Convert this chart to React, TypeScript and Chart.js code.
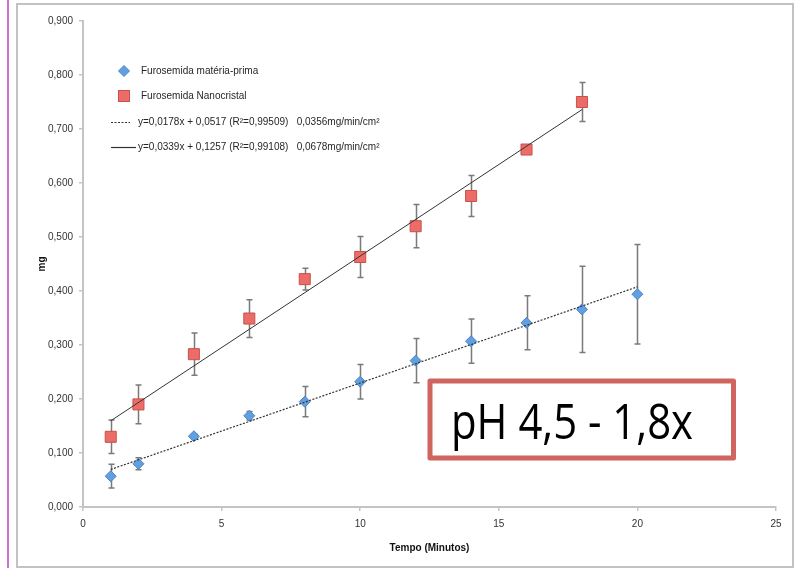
import React, { useEffect, useRef } from 'react';
import { Chart, registerables } from 'chart.js';

Chart.register(...registerables);

// ---- data ----
const timesMP = [1, 2, 4, 6, 8, 10, 12, 14, 16, 18, 20];
const valuesMP = [0.057, 0.080, 0.131, 0.169, 0.195, 0.232, 0.271, 0.307, 0.341, 0.366, 0.394];
const errMP = [0.022, 0.011, 0.004, 0.008, 0.028, 0.032, 0.041, 0.041, 0.050, 0.080, 0.092];

const timesNano = [1, 2, 4, 6, 8, 10, 12, 14, 16, 18];
const valuesNano = [0.130, 0.190, 0.283, 0.349, 0.422, 0.463, 0.520, 0.576, 0.662, 0.750];
const errNano = [0.031, 0.036, 0.039, 0.035, 0.020, 0.038, 0.040, 0.038, 0.003, 0.036];

const trendMPX = [1, 20];
const trendMPY = [0.0695, 0.4077];
const trendNanoX = [1, 18];
const trendNanoY = [0.1596, 0.7359];

const labelMP = 'Furosemida matéria-prima';
const labelNano = 'Furosemida Nanocristal';
const labelTrendMP = 'y=0,0178x + 0,0517 (R²=0,99509)   0,0356mg/min/cm²';
const labelTrendNano = 'y=0,0339x + 0,1257 (R²=0,99108)   0,0678mg/min/cm²';

const xTitle = 'Tempo (Minutos)';
const yTitle = 'mg';
const boxText = 'pH 4,5 - 1,8x';

const xMin = 0, xMax = 25, xStep = 5;
const yMin = 0, yMax = 0.9, yStep = 0.1;

const FONT = "'Liberation Sans', Arial, sans-serif";
const BOXFONT = "'Open Sans', 'Liberation Sans', sans-serif";

const toPoints = (xs: number[], ys: number[]) => xs.map((x, i) => ({ x, y: ys[i] }));

const errorBarsPlugin = {
  id: 'errorBars',
  beforeDatasetsDraw(chart: any) {
    const { ctx, scales } = chart;
    const xs = scales.x, ys = scales.y;
    ctx.save();
    ctx.strokeStyle = '#7a7a7a';
    ctx.lineWidth = 1.5;
    chart.data.datasets.forEach((ds: any) => {
      if (!ds.errors) return;
      ds.data.forEach((p: any, j: number) => {
        const e = ds.errors[j];
        const px = Math.round(xs.getPixelForValue(p.x)) + 0.5;
        const top = ys.getPixelForValue(p.y + e);
        const bot = ys.getPixelForValue(p.y - e);
        ctx.beginPath();
        ctx.moveTo(px, top);
        ctx.lineTo(px, bot);
        ctx.moveTo(px - 3, top);
        ctx.lineTo(px + 3, top);
        ctx.moveTo(px - 3, bot);
        ctx.lineTo(px + 3, bot);
        ctx.stroke();
      });
    });
    ctx.restore();
  },
};

const legendPlugin = {
  id: 'customLegend',
  afterDraw(chart: any) {
    const { ctx } = chart;
    const dss = chart.data.datasets;
    const mx = 124, tx = 141;
    const rows = [71, 96, 122, 147];
    ctx.save();
    ctx.font = `10px ${FONT}`;
    ctx.textBaseline = 'middle';
    ctx.fillStyle = '#262626';
    dss.forEach((ds: any, i: number) => {
      const yy = rows[i];
      ctx.save();
      if (ds.pointStyle === 'rectRot') {
        ctx.fillStyle = ds.backgroundColor;
        ctx.strokeStyle = ds.borderColor;
        ctx.lineWidth = 1;
        ctx.beginPath();
        ctx.moveTo(mx, yy - 5.5);
        ctx.lineTo(mx + 5.5, yy);
        ctx.lineTo(mx, yy + 5.5);
        ctx.lineTo(mx - 5.5, yy);
        ctx.closePath();
        ctx.fill();
        ctx.stroke();
      } else if (ds.pointStyle === 'rect') {
        ctx.fillStyle = ds.backgroundColor;
        ctx.strokeStyle = ds.borderColor;
        ctx.lineWidth = 1;
        ctx.fillRect(mx - 5.5, yy - 5.5, 11, 11);
        ctx.strokeRect(mx - 5.5, yy - 5.5, 11, 11);
      } else {
        ctx.strokeStyle = ds.borderColor;
        ctx.lineWidth = 1.2;
        ctx.setLineDash(ds.borderDash || []);
        ctx.beginPath();
        ctx.moveTo(111, yy + 0.5);
        ctx.lineTo(ds.borderDash ? 130 : 136, yy + 0.5);
        ctx.stroke();
      }
      ctx.restore();
      ctx.fillText(ds.label, ds.pointStyle ? tx : 138, yy);
    });
    ctx.restore();
  },
};

const boxPlugin = {
  id: 'phBox',
  afterDraw(chart: any) {
    const { ctx } = chart;
    ctx.save();
    ctx.fillStyle = '#ffffff';
    ctx.strokeStyle = '#d0645f';
    ctx.lineWidth = 5;
    ctx.lineJoin = 'round';
    ctx.beginPath();
    ctx.rect(430, 381, 303.5, 77);
    ctx.fill();
    ctx.stroke();
    ctx.fillStyle = '#000000';
    ctx.textBaseline = 'alphabetic';
    ctx.font = `50px ${BOXFONT}`;
    const w = ctx.measureText(boxText).width;
    const target = 242;
    ctx.translate(451, 439);
    ctx.scale(target / w, 1);
    ctx.fillText(boxText, 0, 0);
    ctx.restore();
  },
};

export default function App() {
  const ref = useRef<HTMLCanvasElement | null>(null);

  useEffect(() => {
    if (!ref.current) return;
    Chart.defaults.font.family = FONT;
    const axisColor = '#c4c4c4';
    const chart = new Chart(ref.current, {
      type: 'scatter',
      data: {
        datasets: [
          {
            label: labelMP,
            data: toPoints(timesMP, valuesMP),
            errors: errMP,
            pointStyle: 'rectRot',
            pointRadius: 5.5,
            backgroundColor: '#629fe0',
            borderColor: '#4a84c4',
            borderWidth: 1,
            showLine: false,
            order: 2,
          } as any,
          {
            label: labelNano,
            data: toPoints(timesNano, valuesNano),
            errors: errNano,
            pointStyle: 'rect',
            pointRadius: 7.8,
            backgroundColor: '#ec6d68',
            borderColor: '#c9504c',
            borderWidth: 1,
            showLine: false,
            order: 2,
          } as any,
          {
            label: labelTrendMP,
            data: toPoints(trendMPX, trendMPY),
            showLine: true,
            pointRadius: 0,
            borderColor: '#333333',
            borderWidth: 1.2,
            borderDash: [2, 1.5],
            order: 1,
          } as any,
          {
            label: labelTrendNano,
            data: toPoints(trendNanoX, trendNanoY),
            showLine: true,
            pointRadius: 0,
            borderColor: '#333333',
            borderWidth: 1,
            order: 1,
          } as any,
        ],
      },
      options: {
        responsive: false,
        animation: false,
        layout: { padding: { top: 21, right: 22, left: 0, bottom: 0 } },
        plugins: {
          legend: { display: false },
          tooltip: { enabled: false },
        },
        scales: {
          x: {
            type: 'linear',
            min: xMin,
            max: xMax,
            ticks: { stepSize: xStep, font: { size: 10 }, color: '#333333', padding: 7 },
            grid: { drawOnChartArea: false, tickLength: 4, color: axisColor, lineWidth: 1.5 },
            border: { display: true, color: axisColor, width: 2 },
            title: {
              display: true,
              text: xTitle,
              font: { size: 10, weight: 'bold' },
              color: '#111111',
              padding: { top: 0, bottom: 16 },
            },
            afterFit: (s: any) => { s.height = 63; },
          },
          y: {
            type: 'linear',
            min: yMin,
            max: yMax,
            ticks: {
              stepSize: yStep,
              font: { size: 10 },
              color: '#333333',
              padding: 6,
              callback: (v: any) => Number(v).toFixed(3).replace('.', ','),
            },
            grid: { drawOnChartArea: false, tickLength: 4, color: axisColor, lineWidth: 1.5 },
            border: { display: true, color: axisColor, width: 2 },
            title: {
              display: true,
              text: yTitle,
              font: { size: 10, weight: 'bold' },
              color: '#111111',
              padding: { top: 36, bottom: 0 },
            },
            afterFit: (s: any) => { s.width = 83; },
          },
        },
      } as any,
      plugins: [errorBarsPlugin, legendPlugin, boxPlugin],
    });
    return () => chart.destroy();
  }, []);

  return (
    <div style={{ position: 'fixed', left: 0, top: 0, width: 798, height: 570, background: '#ffffff', overflow: 'hidden' }}>
      <div style={{ position: 'absolute', left: 7, top: 0, width: 2, height: 568, background: '#cc72cc' }} />
      <div
        style={{
          position: 'absolute',
          left: 16,
          top: 3,
          width: 778,
          height: 565,
          border: '2px solid #c2c2c2',
          boxSizing: 'border-box',
        }}
      />
      <canvas ref={ref} width={798} height={570} style={{ position: 'absolute', left: 0, top: 0, width: 798, height: 570 }} />
    </div>
  );
}
